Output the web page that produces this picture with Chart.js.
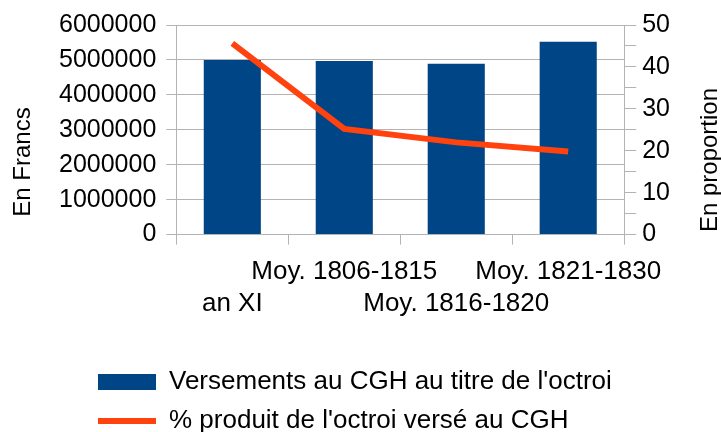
<!DOCTYPE html>
<html>
<head>
<meta charset="utf-8">
<script src="https://cdn.jsdelivr.net/npm/chart.js@4.4.1/dist/chart.umd.min.js"></script>
<style>
  html, body { margin: 0; padding: 0; background: #fff; }
  #wrap { width: 721px; height: 432px; }
</style>
</head>
<body>
<div id="wrap"><canvas id="octroiChart"></canvas></div>
<script>
const categories = ["an XI", "Moy. 1806-1815", "Moy. 1816-1820", "Moy. 1821-1830"];
const versements = [5000000, 4970000, 4890000, 5520000];
const proportion = [45.6, 25.2, 22.0, 19.8];
const leftTitle = "En Francs";
const rightTitle = "En proportion";

const FONT = "Liberation Sans";
const GRID = "#b3b3b3";

// axis titles drawn by hand so they sit where the original puts them,
// legend nudged to the left-aligned spot of the original
const axisTitles = {
  id: "axisTitles",
  afterLayout(chart) {
    chart.legend.left = 85;
    chart.legend.top += 12;
  },
  afterDraw(chart) {
    const ctx = chart.ctx;
    const drawTitle = (text, x, y) => {
      ctx.save();
      ctx.font = "24px '" + FONT + "'";
      ctx.fillStyle = "#000";
      ctx.textAlign = "center";
      ctx.textBaseline = "middle";
      ctx.translate(x, y);
      ctx.rotate(-Math.PI / 2);
      ctx.fillText(text, 0, 0);
      ctx.restore();
    };
    drawTitle(leftTitle, 23, 162);
    drawTitle(rightTitle, 710, 160);
  }
};

new Chart(document.getElementById("octroiChart"), {
  data: {
    labels: categories,
    datasets: [
      {
        type: "bar",
        label: "Versements au CGH au titre de l'octroi",
        data: versements,
        backgroundColor: "#004586",
        pointStyle: "rect",
        yAxisID: "y",
        order: 1,
        categoryPercentage: 1,
        barPercentage: 0.51
      },
      {
        type: "line",
        label: "% produit de l'octroi versé au CGH",
        data: proportion,
        borderColor: "#ff420e",
        backgroundColor: "#ff420e",
        borderWidth: 6,
        pointRadius: 0,
        pointStyle: "line",
        yAxisID: "y1",
        order: 0
      }
    ]
  },
  options: {
    responsive: true,
    maintainAspectRatio: false,
    animation: false,
    layout: { padding: { left: 49, right: 45, top: 11, bottom: 0 } },
    plugins: {
      tooltip: { enabled: false },
      legend: {
        position: "bottom",
        align: "start",
        labels: {
          sort: (a, b) => a.datasetIndex - b.datasetIndex,
          usePointStyle: true,
          pointStyleWidth: 58,
          boxHeight: 16,
          padding: 13,
          color: "#000",
          font: { family: FONT, size: 26 }
        }
      }
    },
    scales: {
      x: {
        offset: true,
        grid: { drawOnChartArea: false, color: GRID, tickLength: 10, offset: true },
        border: { color: GRID },
        ticks: {
          color: "#000",
          autoSkip: false,
          maxRotation: 0,
          padding: 12,
          font: { family: FONT, size: 26, lineHeight: 1.2 },
          callback: (v, i) => i % 2 === 0 ? ["", categories[i]] : categories[i]
        },
        afterFit: (scale) => { scale.height += 13; }
      },
      y: {
        position: "left",
        min: 0,
        max: 6000000,
        grid: { color: GRID, tickLength: 10 },
        border: { color: GRID },
        ticks: {
          stepSize: 1000000,
          autoSkip: false,
          color: "#000",
          padding: 10,
          font: { family: FONT, size: 25 },
          callback: (v) => String(v)
        }
      },
      y1: {
        position: "right",
        min: 0,
        max: 50,
        grid: { drawOnChartArea: false, color: GRID, tickLength: 12 },
        border: { color: GRID },
        ticks: {
          stepSize: 5,
          autoSkip: false,
          color: "#000",
          padding: 6,
          font: { family: FONT, size: 25 },
          callback: (v) => v % 10 === 0 ? String(v) : ""
        }
      }
    }
  },
  plugins: [axisTitles]
});
</script>
</body>
</html>
